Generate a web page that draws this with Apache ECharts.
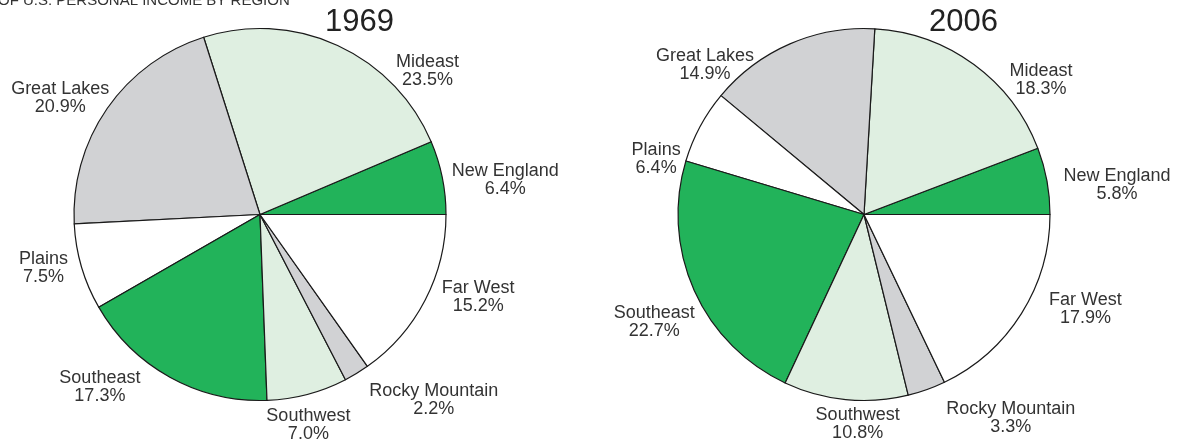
<!DOCTYPE html>
<html>
<head>
<meta charset="utf-8">
<style>
  html, body { margin: 0; padding: 0; background: #ffffff; }
  #chart { width: 1183px; height: 444px; }
</style>
<script src="https://cdn.jsdelivr.net/npm/echarts@6/dist/echarts.min.js"></script>
</head>
<body>
<div id="chart"></div>
<script>
// ---- data ----
const regions = ['New England', 'Mideast', 'Great Lakes', 'Plains', 'Southeast', 'Southwest', 'Rocky Mountain', 'Far West'];
const years = ['1969', '2006'];
const share1969 = [6.4, 23.5, 20.9, 7.5, 17.3, 7.0, 2.2, 15.2];
const share2006 = [5.8, 18.3, 14.9, 6.4, 22.7, 10.8, 3.3, 17.9];
const headerText = 'OF U.S. PERSONAL INCOME BY REGION';

// ---- styles / layout ----
const sliceColors = ['#22b35a', '#dfefe1', '#d1d2d4', '#ffffff', '#22b35a', '#dfefe1', '#d1d2d4', '#ffffff'];
const pieRadius = 186;
const pieCenters = [[260, 214.5], [864, 214.5]];
const titleLeft = [325, 929];
// label offsets from the slice's outer mid point
const labelNudge = [
  [[63, 3], [90, 26], [-47, -10], [-38, 1], [-70, 10], [1, 31], [77, 27], [53, -3]],
  [[70, 4], [67, 16], [-85, 21], [-44, 33], [-40, 32], [12, 24], [84, 28], [64, -5]]
];
const FONT = '"Liberation Sans", Arial, Helvetica, sans-serif';
const seriesValues = [share1969, share2006];

function midPoint(s, i) {
  const vals = seriesValues[s];
  const total = vals.reduce((a, b) => a + b, 0);
  let before = 0;
  for (let k = 0; k < i; k++) before += vals[k];
  const frac = (before + vals[i] / 2) / total;
  const ang = frac * 2 * Math.PI; // counter-clockwise from 3 o'clock
  const c = pieCenters[s];
  return [c[0] + pieRadius * Math.cos(ang), c[1] - pieRadius * Math.sin(ang)];
}

function makeSeries(s) {
  return {
    type: 'pie',
    center: pieCenters[s],
    radius: pieRadius,
    startAngle: 0,
    clockwise: false,
    avoidLabelOverlap: false,
    silent: true,
    animation: false,
    itemStyle: { borderColor: '#1a1a1a', borderWidth: 1.2 },
    label: {
      show: true,
      position: 'outside',
      color: '#333333',
      fontFamily: FONT,
      fontSize: 18,
      lineHeight: 18,
      formatter: p => p.name + '\n' + p.value.toFixed(1) + '%'
    },
    labelLine: { show: false },
    labelLayout: function (params) {
      const i = params.dataIndex;
      const p = midPoint(s, i);
      const n = labelNudge[s][i];
      return { x: p[0] + n[0], y: p[1] + n[1], align: 'center', verticalAlign: 'middle', hideOverlap: false };
    },
    emphasis: { disabled: true },
    data: regions.map((name, i) => ({
      name: name,
      value: seriesValues[s][i],
      itemStyle: { color: sliceColors[i] }
    }))
  };
}

const chart = echarts.init(document.getElementById('chart'), null, { renderer: 'canvas' });
chart.setOption({
  backgroundColor: '#ffffff',
  animation: false,
  title: years.map((y, s) => ({
    text: y,
    left: titleLeft[s],
    top: 7,
    padding: 0,
    textStyle: { fontFamily: FONT, fontSize: 31, fontWeight: 'normal', color: '#222222' }
  })),
  graphic: [{
    type: 'text',
    x: -2,
    y: 1,
    silent: true,
    style: {
      text: headerText,
      font: '15px ' + FONT,
      fill: '#333333',
      verticalAlign: 'middle',
      align: 'left'
    }
  }],
  series: [makeSeries(0), makeSeries(1)]
});
</script>
</body>
</html>
